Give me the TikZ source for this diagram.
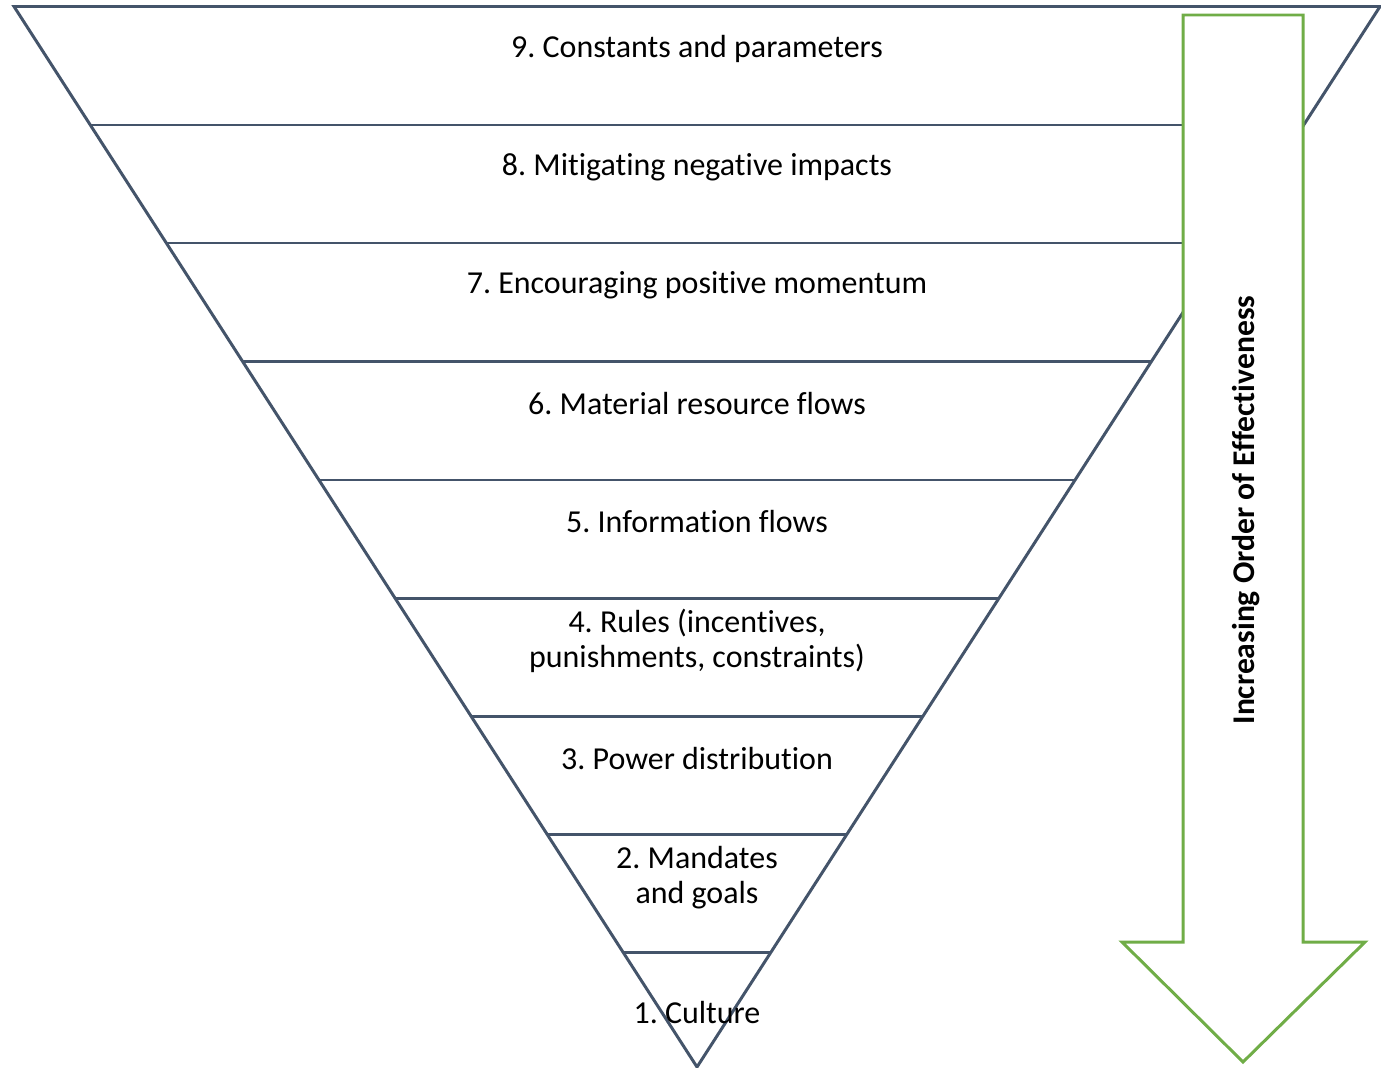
\documentclass[tikz,border=0pt]{standalone}
\usepackage{fontspec}
\setmainfont[Ligatures=NoCommon]{Carlito}
\frenchspacing
\definecolor{slate}{HTML}{44546A}
\definecolor{leaf}{HTML}{70AD47}
\begin{document}
\begin{tikzpicture}[x=0.02cm,y=-0.02cm,
  edge/.style={draw=slate,line width=1.7pt},
  band/.style={font=\fontsize{18.2}{20}\selectfont,align=center,text=black},
  arrowshape/.style={draw=leaf,line width=1.7pt,fill=white,line join=miter}]
\useasboundingbox (0,0) rectangle (1381,1067);
% funnel outline
\coordinate (tl) at (14,6.5);
\coordinate (tr) at (1380,6.5);
\coordinate (apex) at (697,1067);
\draw[edge,line join=miter] (apex) -- (tl) -- (tr) -- cycle;
% band separators, ending on the funnel sides
\foreach \y in {125,243,361.5,480,598.5,716.5,834.5,952.5}{
  \pgfmathsetmacro{\dx}{0.644*(\y-6.5)}
  \draw[edge] (14+\dx,\y) -- (1380-\dx,\y);
}
% band labels
\node[band] (l9) at (697,49) {9. Constants and parameters};
\node[band] (l8) at (697,167) {8. Mitigating negative impacts};
\node[band] (l7) at (697,285) {7. Encouraging positive momentum};
\node[band] (l6) at (697,404) {6. Material resource flows};
\node[band] (l5) at (697,522) {5. Information flows};
\node[band] (l4) at (697,641) {4. Rules (incentives,\\punishments, constraints)};
\node[band] (l3) at (697,759) {3. Power distribution};
\node[band] (l2) at (697,878) {2. Mandates\\and goals};
\node[band] (l1) at (697,1013) {1. Culture};
% downward block arrow
\draw[arrowshape] (1183,15) -- (1303,15) -- (1303,942) -- (1365,942) -- (1243,1062)
  -- (1122,942) -- (1183,942) -- cycle;
\node[font=\bfseries\fontsize{18}{20}\selectfont,rotate=90] (lbl) at (1246,510)
  {Increasing Order of Effectiveness};
\end{tikzpicture}
\end{document}
